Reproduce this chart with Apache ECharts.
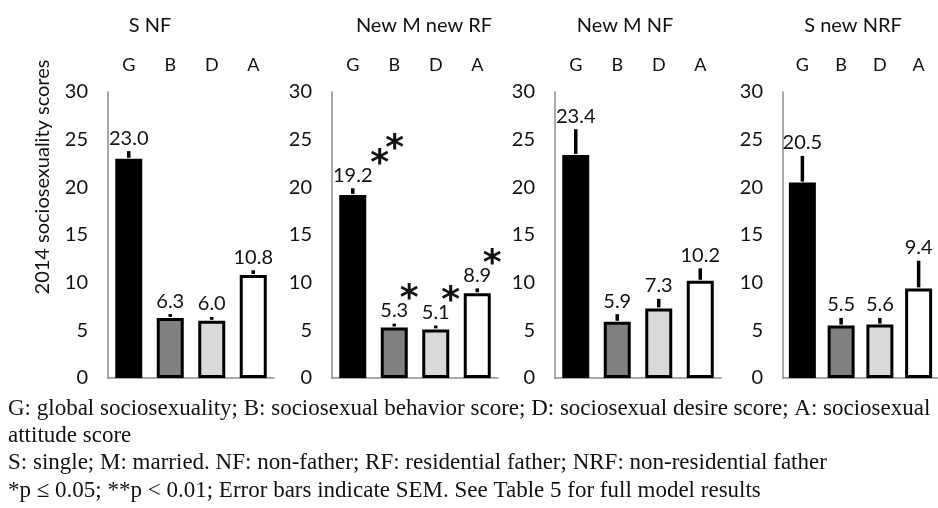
<!DOCTYPE html>
<html>
<head>
<meta charset="utf-8">
<script src="https://cdn.jsdelivr.net/npm/echarts@6/dist/echarts.min.js"></script>
<style>html,body{margin:0;padding:0;background:#fff}#c{width:938px;height:508px}</style>
</head>
<body>
<div id="c"></div>
<script>
const categories = ['G', 'B', 'D', 'A'];
const panelTitles = ['S NF', 'New M new RF', 'New M NF', 'S new NRF'];
const snfValues = [23.0, 6.3, 6.0, 10.8];
const snfErr = [0.8, 0.4, 0.4, 0.5];
const mrfValues = [19.2, 5.3, 5.1, 8.9];
const mrfErr = [0.7, 0.4, 0.4, 0.5];
const mnfValues = [23.4, 5.9, 7.3, 10.2];
const mnfErr = [2.7, 0.8, 1.0, 1.3];
const nrfValues = [20.5, 5.5, 5.6, 9.4];
const nrfErr = [2.8, 0.8, 0.7, 2.9];
const mrfSig = ['**', '*', '*', '*'];
const yMin = 0, yMax = 30, yStep = 5;
const yAxisName = '2014 sociosexuality scores';
const footnotes = [
  'G: global sociosexuality; B: sociosexual behavior score; D: sociosexual desire score; A: sociosexual',
  'attitude score',
  'S: single; M: married. NF: non-father; RF: residential father; NRF: non-residential father',
  '*p \u2264 0.05; **p < 0.01; Error bars indicate SEM. See Table 5 for full model results'
];

const panels = [
  {values: snfValues, err: snfErr, sig: null},
  {values: mrfValues, err: mrfErr, sig: mrfSig},
  {values: mnfValues, err: mnfErr, sig: null},
  {values: nrfValues, err: nrfErr, sig: null}
];
const barColors = ['#000000', '#808080', '#d9d9d9', '#ffffff'];
const gridLefts = [108, 332, 555, 783];
const titleCenters = [150, 424, 625, 853];
const FONT = 'Lato';

const grid = [], xAxis = [], yAxis = [], series = [], graphic = [];
panels.forEach((p, k) => {
  grid.push({left: gridLefts[k], top: 92, width: 166, height: 286});
  xAxis.push({type: 'category', gridIndex: k, data: categories, position: 'bottom',
    axisLine: {show: true, lineStyle: {color: '#8c8c8c', width: 1.5}},
    axisTick: {show: false}, axisLabel: {show: false}});
  xAxis.push({type: 'category', gridIndex: k, data: categories, position: 'top',
    axisLine: {show: false}, axisTick: {show: false},
    axisLabel: {show: true, fontFamily: FONT, fontSize: 18, color: '#111', margin: 18}});
  yAxis.push({type: 'value', gridIndex: k, min: yMin, max: yMax, interval: yStep,
    axisLine: {show: true, lineStyle: {color: '#8c8c8c', width: 1.5}},
    axisTick: {show: false}, splitLine: {show: false},
    axisLabel: {fontFamily: FONT, fontSize: 20, color: '#111', margin: 20}});
  series.push({type: 'bar', xAxisIndex: 2 * k, yAxisIndex: k, barWidth: 27,
    data: p.values.map((v, i) => ({value: v, itemStyle: {color: barColors[i], borderColor: '#000', borderWidth: 3}})),
    silent: true});
  series.push({type: 'custom', xAxisIndex: 2 * k, yAxisIndex: k, silent: true,
    data: p.values.map((v, i) => [i, v, p.err[i]]),
    encode: {x: 0, y: 1},
    renderItem: function (params, api) {
      const i = api.value(0), v = api.value(1), e = api.value(2);
      const a = api.coord([i, v]), b = api.coord([i, v + e]);
      return {type: 'group', children: [
        {type: 'line', shape: {x1: a[0], y1: a[1] - 1, x2: b[0], y2: b[1]}, style: {stroke: '#000', lineWidth: 3.5}},
        {type: 'text', style: {x: b[0], y: b[1] - 13, text: v.toFixed(1), fontFamily: FONT, fontSize: 20,
          fill: '#111', textAlign: 'center', textVerticalAlign: 'middle'}}
      ]};
    }});
  if (p.sig) {
    series.push({type: 'custom', xAxisIndex: 2 * k, yAxisIndex: k, silent: true,
      data: p.values.map((v, i) => [i, v + p.err[i]]),
      encode: {x: 0, y: 1},
      renderItem: function (params, api) {
        const s = p.sig[params.dataIndex];
        const c = api.coord([api.value(0), api.value(1)]);
        const kids = [];
        for (let j = 0; j < s.length; j++) {
          kids.push({type: 'text', style: {x: c[0] + 15 + (s.length > 1 ? 12 : 0) + 15 * j, y: c[1] - 35 - 15 * j + 11,
            text: '*', fontFamily: 'DejaVu Sans', fontWeight: 'bold', fontSize: 36, fill: '#111',
            textAlign: 'center', textVerticalAlign: 'middle'}});
        }
        return {type: 'group', children: kids};
      }});
  }
  graphic.push({type: 'text', x: titleCenters[k], y: 26, style: {text: panelTitles[k], fontFamily: FONT,
    fontSize: 20, fill: '#111', textAlign: 'center', textVerticalAlign: 'middle'}});
});
graphic.push({type: 'text', x: 43, y: 177, rotation: Math.PI / 2, style: {text: yAxisName, fontFamily: FONT,
  fontSize: 20, fill: '#111', textAlign: 'center', textVerticalAlign: 'middle'}});
const footY = [409, 436, 463, 491];
footnotes.forEach((t, i) => {
  graphic.push({type: 'text', x: 8, y: footY[i], style: {text: t, fontFamily: 'Liberation Serif', fontSize: 23,
    fill: '#111', textAlign: 'left', textVerticalAlign: 'middle'}});
});

const chart = echarts.init(document.getElementById('c'), null, {renderer: 'canvas'});
chart.setOption({animation: false, backgroundColor: '#fff', grid, xAxis, yAxis, series, graphic});
</script>
</body>
</html>
